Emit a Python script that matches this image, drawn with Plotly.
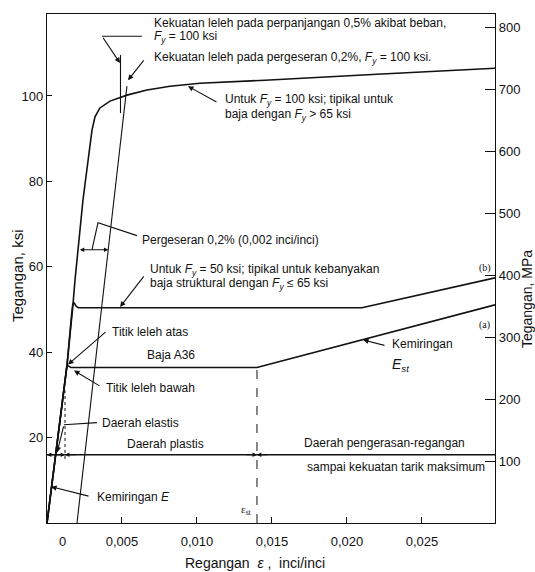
import plotly.graph_objects as go

KSI_TO_MPA = 6.895
FONT = "Liberation Sans, Arial, sans-serif"

# Fy = 100 ksi steel: no distinct plateau, gradual yielding
hs_strain = [0, 0.00107, 0.00133, 0.00173, 0.00187, 0.0024, 0.0030, 0.0032, 0.00353,
             0.0042, 0.00533, 0.00667, 0.0082, 0.0102, 0.01453, 0.0220, 0.02987]
hs_stress = [0, 28.9, 36.8, 51.1, 57.0, 75.7, 92.0, 95.1, 97.2,
             98.8, 100.2, 101.4, 102.3, 103.0, 103.7, 105.1, 106.5]

# Fy = 50 ksi steel (b)
fy50_strain = [0, 0.00107, 0.00133, 0.00163, 0.00172, 0.00182, 0.00195, 0.0021, 0.0210, 0.02987]
fy50_stress = [0, 28.9, 36.8, 48.4, 51.3, 51.5, 50.7, 50.4, 50.4, 57.4]

# A36 steel (a)
a36_strain = [0, 0.00107, 0.00133, 0.0016, 0.0140, 0.02987]
a36_stress = [0, 28.9, 37.0, 36.4, 36.4, 51.1]

# 0.2 % offset line and 0.5 % total-elongation line
offset_strain = [0.002, 0.00533]
offset_stress = [0, 102.3]
elong_strain = [0.0049, 0.0049]
elong_stress = [96.0, 109.6]

# strain-hardening onset and region divider
est_strain = [0.014, 0.014]
est_stress = [0, 36.4]
elastic_end_strain = [0.0012, 0.0012]
elastic_end_stress = [15.0, 31.0]
region_strain = [0, 0.02987]
region_stress = [16.0, 16.0]

x_ticks = [0.005, 0.010, 0.015, 0.020, 0.025]
x_ticktext = ["0,005", "0,010", "0,015", "0,020", "0,025"]
ksi_ticks = [20, 40, 60, 80, 100]
mpa_ticks = [100, 200, 300, 400, 500, 600, 700, 800]

X_MAX = 0.02987
Y_MAX = 119.2

fig = go.Figure()

def line(x, y, width=1.6, dash="solid"):
    fig.add_trace(go.Scatter(x=x, y=y, mode="lines", hoverinfo="skip", showlegend=False,
                             line=dict(color="#111", width=width, dash=dash)))

line(hs_strain, hs_stress)
line(fy50_strain, fy50_stress)
line(a36_strain, a36_stress)
line(offset_strain, offset_stress, width=1.1)
line(elong_strain, elong_stress, width=1.1)
line(est_strain, est_stress, width=1.0, dash="dash")
line(elastic_end_strain, elastic_end_stress, width=1.0, dash="dot")
line(region_strain, region_stress, width=1.4)

# invisible trace to carry the MPa axis
fig.add_trace(go.Scatter(x=a36_strain, y=[v * KSI_TO_MPA for v in a36_stress], yaxis="y2",
                         mode="lines", opacity=0, hoverinfo="skip", showlegend=False))

ann = []

def text(x, y, s, size=12, anchor="left", family=FONT):
    ann.append(dict(x=x, y=y, xref="x", yref="y", text=s, showarrow=False,
                    xanchor=anchor, yanchor="middle",
                    font=dict(family=family, size=size, color="#111")))

def arrow(tail, tip, head=2, side="end", size=1.0):
    ann.append(dict(x=tip[0], y=tip[1], ax=tail[0], ay=tail[1], xref="x", yref="y",
                    axref="x", ayref="y", text="", showarrow=True, arrowhead=head,
                    arrowsize=size, arrowwidth=1.1, arrowcolor="#111", arrowside=side))

shapes = []

def leader(points):
    path = "M " + " L ".join(f"{px} {py}" for px, py in points)
    shapes.append(dict(type="path", path=path, xref="x", yref="y",
                       line=dict(color="#111", width=1.1)))

Fy = "<i>F<sub>y</sub></i>"

text(0.0070, 117.1, "Kekuatan leleh pada perpanjangan 0,5% akibat beban,")
text(0.0070, 113.8, f"{Fy} = 100 ksi")
text(0.0070, 108.9, f"Kekuatan leleh pada pergeseran 0,2%, {Fy} = 100 ksi.")
text(0.01173, 99.1, f"Untuk {Fy} = 100 ksi; tipikal untuk")
text(0.01173, 95.6, f"baja dengan {Fy} &gt; 65 ksi")
text(0.0062, 66.3, "Pergeseran 0,2% (0,002 inci/inci)")
text(0.00673, 59.3, f"Untuk {Fy} = 50 ksi; tipikal untuk kebanyakan")
text(0.00673, 56.0, f"baja struktural dengan {Fy} ≤ 65 ksi")
text(0.0042, 44.8, "Titik leleh atas")
text(0.00653, 39.4, "Baja A36")
text(0.0038, 31.7, "Titik leleh bawah")
text(0.00353, 23.5, "Daerah elastis")
text(0.00793, 18.4, "Daerah plastis", anchor="center")
text(0.02253, 18.8, "Daerah pengerasan-regangan", anchor="center")
text(0.02327, 13.0, "sampai kekuatan tarik maksimum", anchor="center")
text(0.0032, 6.2, "Kemiringan <i>E</i>")
text(0.02287, 42.0, "Kemiringan")
text(0.02287, 37.0, "<i>E<sub>st</sub></i>", size=14)
text(0.02867, 59.8, "(b)", size=10, family="Liberation Serif, serif")
text(0.02867, 46.4, "(a)", size=10, family="Liberation Serif, serif")
text(0.01327, 3.0, "ε<sub>st</sub>", size=11, anchor="center", family="Liberation Serif, serif")

# leader lines and arrows
leader([(0.00633, 114.0), (0.00367, 114.0)])
arrow((0.00367, 114.0), (0.00487, 107.7))
arrow((0.00653, 108.7), (0.0054, 103.7))
arrow((0.0114, 98.4), (0.0094, 102.3))
leader([(0.0060, 67.3), (0.0034, 70.3), (0.0030, 64.0)])
arrow((0.00209, 64.0), (0.00409, 64.0), head=2, side="end+start", size=0.8)
arrow((0.00653, 58.1), (0.00487, 50.6))
arrow((0.0040, 45.0), (0.0014, 37.1))
arrow((0.0036, 31.9), (0.0018, 35.7))
leader([(0.00333, 23.5), (0.00113, 23.0)])
arrow((0.00113, 23.0), (0.00067, 16.5))
arrow((0.00287, 6.2), (0.00027, 8.5))
arrow((0.0226, 41.5), (0.02107, 42.9))

# arrowheads along the region divider
for tail, tip in [((0.0008, 16.0), (0.0, 16.0)),
                  ((0.0004, 16.0), (0.0012, 16.0)),
                  ((0.0020, 16.0), (0.0012, 16.0)),
                  ((0.0132, 16.0), (0.0140, 16.0)),
                  ((0.0148, 16.0), (0.0140, 16.0))]:
    arrow(tail, tip, size=0.8)

# tick label for the origin, set slightly right of the corner
ann.append(dict(x=0.001, y=-0.0354, xref="x", yref="paper", text="0", showarrow=False,
                xanchor="center", yanchor="middle", font=dict(family=FONT, size=13, color="#111")))

# axis titles
ann.append(dict(x=0.464, y=-0.0786, xref="paper", yref="paper",
                text="Regangan  <i>ε</i> ,  inci/inci", showarrow=False,
                xanchor="center", yanchor="middle",
                font=dict(family=FONT, size=14, color="#111")))
ann.append(dict(x=-0.067, y=0.487, xref="paper", yref="paper", text="Tegangan, ksi",
                textangle=-90, showarrow=False, xanchor="center", yanchor="middle",
                font=dict(family=FONT, size=15, color="#111")))
ann.append(dict(x=1.0714, y=0.44, xref="paper", yref="paper", text="Tegangan, MPa",
                textangle=-90, showarrow=False, xanchor="center", yanchor="middle",
                font=dict(family=FONT, size=14, color="#111")))

fig.update_layout(
    width=535, height=572,
    margin=dict(l=47, r=40, t=14, b=49),
    paper_bgcolor="white", plot_bgcolor="white",
    showlegend=False,
    annotations=ann, shapes=shapes,
    xaxis=dict(range=[0, X_MAX], tickvals=x_ticks, ticktext=x_ticktext,
               ticks="inside", ticklen=6, tickcolor="#111", showgrid=False, zeroline=False,
               showline=True, linecolor="#111", linewidth=1.4, mirror=True,
               ticklabelstandoff=6, tickfont=dict(family=FONT, size=13, color="#111")),
    yaxis=dict(range=[0, Y_MAX], tickvals=ksi_ticks, ticks="inside", ticklen=5,
               tickcolor="#111", showgrid=False, zeroline=False, showline=True,
               linecolor="#111", linewidth=1.4, mirror=True,
               tickfont=dict(family=FONT, size=13, color="#111")),
    yaxis2=dict(range=[0, Y_MAX * KSI_TO_MPA], tickvals=mpa_ticks, overlaying="y",
                side="right", ticks="inside", ticklen=10, tickcolor="#111",
                showgrid=False, zeroline=False, showline=True, linecolor="#111",
                linewidth=1.4, tickfont=dict(family=FONT, size=13, color="#111")),
)

fig.write_html("out.html")
